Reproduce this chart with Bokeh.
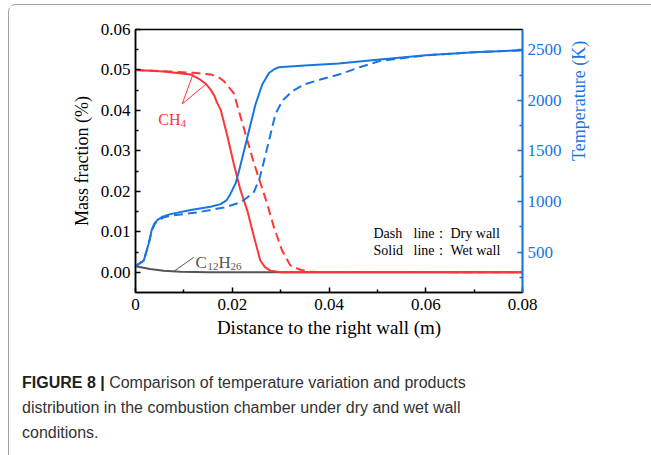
import math

from bokeh.plotting import figure
from bokeh.layouts import column
from bokeh.models import (Range1d, LinearAxis, FixedTicker, Label, Div,
                          PrintfTickFormatter, CustomJSTickFormatter)
from bokeh.embed import file_html
from bokeh.resources import INLINE

# Temperature along the chamber, wet wall (solid) and dry wall (dashed)
x_temp_wet = [0.0, 0.0017, 0.0027, 0.0034, 0.0039, 0.0045, 0.0056, 0.0072, 0.0114, 0.0155,
              0.0176, 0.0188, 0.0196, 0.0207, 0.0214, 0.0231, 0.0248, 0.0262, 0.0276, 0.0286,
              0.0296, 0.035, 0.042, 0.05, 0.06, 0.07, 0.08]
temp_wet = [360, 415, 580, 727, 780, 816, 850, 875, 915, 947,
            974, 1010, 1072, 1180, 1302, 1630, 1959, 2156, 2270, 2305,
            2327, 2345, 2365, 2400, 2445, 2475, 2495]

x_temp_dry = [0.0, 0.0017, 0.0027, 0.0034, 0.0039, 0.0045, 0.0056, 0.0072, 0.0127, 0.0183,
              0.0217, 0.0231, 0.0245, 0.0257, 0.0269, 0.0279, 0.0289, 0.0303, 0.0324, 0.0348,
              0.0382, 0.0424, 0.0465, 0.0506, 0.06, 0.07, 0.08]
temp_dry = [360, 415, 575, 715, 770, 805, 838, 860, 891, 940,
            990, 1039, 1095, 1236, 1466, 1663, 1860, 1992, 2090, 2156,
            2205, 2260, 2330, 2390, 2445, 2475, 2495]

# CH4 mass fraction, wet wall (solid) and dry wall (dashed)
x_ch4_wet = [0.0, 0.0058, 0.0114, 0.0134, 0.0145, 0.0155, 0.0163, 0.0169, 0.0176, 0.019,
             0.0203, 0.0217, 0.0231, 0.0245, 0.0258, 0.0268, 0.0279, 0.03, 0.08]
ch4_wet = [0.0500, 0.0496, 0.0489, 0.0476, 0.0466, 0.0452, 0.0436, 0.0418, 0.0402, 0.0336,
           0.0269, 0.0203, 0.0153, 0.0087, 0.0029, 0.0012, 0.0004, 0.0, 0.0]

x_ch4_dry = [0.0, 0.0072, 0.012, 0.0155, 0.0172, 0.0183, 0.0203, 0.0217, 0.0231, 0.0245,
             0.0258, 0.0272, 0.0286, 0.0303, 0.032, 0.0341, 0.036, 0.08]
ch4_dry = [0.0500, 0.0496, 0.0493, 0.0489, 0.0482, 0.0472, 0.0443, 0.0385, 0.0327, 0.0269,
           0.0222, 0.0170, 0.0112, 0.0054, 0.0017, 0.0006, 0.0001, 0.0]

# C12H26 mass fraction
x_c12h26 = [0.0, 0.003, 0.0058, 0.0093, 0.015, 0.08]
c12h26 = [0.0015, 0.0008, 0.0004, 0.0001, 0.0, 0.0]

x_ticks = [0.0, 0.02, 0.04, 0.06, 0.08]
x_minor = [0.01, 0.03, 0.05, 0.07]
mass_ticks = [0.0, 0.01, 0.02, 0.03, 0.04, 0.05, 0.06]
mass_minor = [0.005, 0.015, 0.025, 0.035, 0.045, 0.055]
temp_ticks = [500, 1000, 1500, 2000, 2500]
temp_minor = [250, 750, 1250, 1750, 2250]

RED = "#ff3535"
BLUE = "#1a75e0"
GRAY = "#555555"
SERIF = "Liberation Serif"
SANS = "Liberation Sans"

p = figure(width=642, height=350, x_range=Range1d(0, 0.08), y_range=Range1d(-0.005, 0.06),
           output_backend="svg", toolbar_location=None,
           min_border_left=126, min_border_right=129, min_border_top=24, min_border_bottom=63)
p.extra_y_ranges = {"temp": Range1d(100, 2700)}
p.grid.visible = False
p.background_fill_color = "white"
p.border_fill_color = "white"
p.outline_line_color = "black"
p.outline_line_width = 1.5

# bottom axis
xa = p.xaxis[0]
xa.ticker = FixedTicker(ticks=x_ticks, minor_ticks=x_minor)
xa.formatter = CustomJSTickFormatter(code="return tick == 0 ? '0' : tick.toFixed(2);")
xa.axis_label = "Distance to the right wall (m)"

# left axis
ya = p.yaxis[0]
ya.ticker = FixedTicker(ticks=mass_ticks, minor_ticks=mass_minor)
ya.formatter = PrintfTickFormatter(format="%.2f")
ya.axis_label = "Mass fraction (%)"

# right axis (temperature)
ta = LinearAxis(y_range_name="temp", ticker=FixedTicker(ticks=temp_ticks, minor_ticks=temp_minor),
                axis_label="Temperature (K)")
if "axis_label_orientation" in ta.properties():
    ta.axis_label_orientation = math.pi / 2
p.add_layout(ta, "right")

for ax, col in ((xa, "black"), (ya, "black"), (ta, BLUE)):
    ax.axis_line_color = col
    ax.axis_line_width = 1.5
    ax.major_tick_line_color = col
    ax.minor_tick_line_color = col
    ax.major_tick_line_width = 1.5
    ax.minor_tick_line_width = 1.5
    ax.major_tick_in = 5
    ax.major_tick_out = 0
    ax.minor_tick_in = 3
    ax.minor_tick_out = 0
    ax.major_label_text_font = SERIF
    ax.major_label_text_font_size = "17px"
    ax.major_label_text_color = col
    ax.axis_label_text_font = SERIF
    ax.axis_label_text_font_size = "18px"
    ax.axis_label_text_font_style = "normal"
    ax.axis_label_text_color = col

xa.axis_label_text_font_size = "19px"
xa.major_label_standoff = 6
xa.axis_label_standoff = 4
ya.major_label_standoff = 5
ya.axis_label_standoff = 6
ta.major_label_standoff = 5
ta.axis_label_standoff = 14

# curves
p.line(x_c12h26, c12h26, line_color=GRAY, line_width=2)
p.line(x_ch4_dry, ch4_dry, line_color=RED, line_width=2, line_dash="9 5")
p.line(x_ch4_wet, ch4_wet, line_color=RED, line_width=2)
p.line(x_temp_dry, temp_dry, y_range_name="temp", line_color=BLUE, line_width=2, line_dash="9 5")
p.line(x_temp_wet, temp_wet, y_range_name="temp", line_color=BLUE, line_width=2)

# leader lines for the species labels
p.line([0.01205, 0.00965, 0.01447], [0.04945, 0.0416, 0.0464], line_color=RED, line_width=1)
p.line([0.0079, 0.01205], [0.0002, 0.0037], line_color=GRAY, line_width=1)


def lab(x, y, text, size, color, units="data", **kw):
    p.add_layout(Label(x=x, y=y, x_units=units, y_units=units, text=text,
                       text_font=SERIF, text_font_size=size,
                       text_color=color, text_baseline="alphabetic", **kw))


lab(0.0047, 0.0377, "CH", "16px", RED)
lab(0.0093, 0.0368, "4", "11px", RED)
lab(0.0124, 0.0025, "C", "17px", GRAY)
lab(0.01488, 0.00145, "12", "11px", GRAY)
lab(0.01716, 0.0025, "H", "17px", GRAY)
lab(0.01964, 0.00145, "26", "11px", GRAY)

# line-style key, placed in pixels from the frame's lower-left corner
FL, FB = 126, 287
for cy, words in ((228, ("Dash", "line：", "Dry wall")), (244.5, ("Solid", "line：", "Wet wall"))):
    for cx, w in zip((364, 404, 441), words):
        lab(cx - FL, FB - cy, w, "14px", "black", units="screen")

caption = Div(
    text=("<b style='color:#1e1e1e'>FIGURE 8 |</b> Comparison of temperature variation and products<br>"
          "distribution in the combustion chamber under dry and wet wall<br>"
          "conditions."),
    width=642, height=100,
    styles={"font-family": SANS, "font-size": "16px", "line-height": "25px",
            "color": "#333333", "padding-left": "8px", "padding-top": "10px",
            "box-sizing": "border-box", "white-space": "nowrap"},
)

page = column(p, caption, spacing=0,
              styles={"border-left": "1px solid #a3a3a3", "border-top": "1px solid #a3a3a3",
                      "border-top-left-radius": "8px", "margin-left": "8px", "margin-top": "4px",
                      "background-color": "white"})

open("out.html", "w").write(file_html(page, INLINE))
